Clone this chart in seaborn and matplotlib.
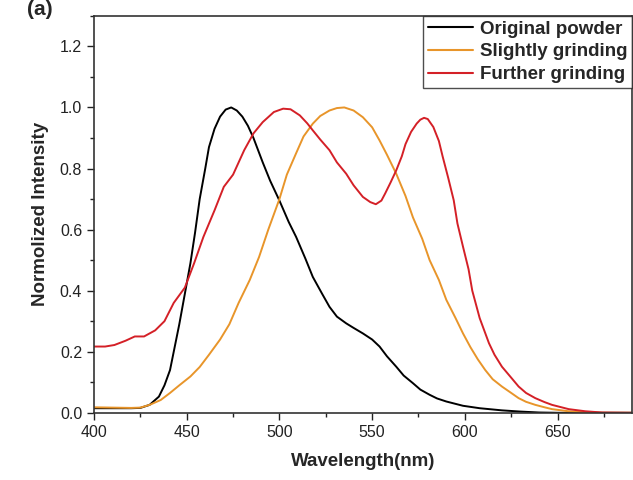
import numpy as np
import pandas as pd
import matplotlib
matplotlib.use("Agg")
import matplotlib.pyplot as plt
from matplotlib.ticker import MultipleLocator, FormatStrFormatter
import seaborn as sns

# ---- data ----
wl_original = [400, 410, 420, 425, 430, 435, 438, 441, 443, 446, 449, 452, 454.5, 457, 460,
               462, 465, 468, 471, 474, 477, 480, 483, 486, 491, 495, 500, 505, 509, 514,
               518, 523, 527, 531, 536, 540, 545, 550, 554, 558, 563, 567, 572, 576, 581,
               585, 590, 599, 608, 620, 630, 640, 650, 690]
int_original = [0.015, 0.015, 0.015, 0.016, 0.026, 0.053, 0.09, 0.14, 0.20, 0.29, 0.39, 0.49,
                0.59, 0.70, 0.80, 0.87, 0.93, 0.97, 0.993, 1.0, 0.99, 0.97, 0.94, 0.90, 0.82,
                0.76, 0.695, 0.625, 0.576, 0.505, 0.445, 0.39, 0.347, 0.315, 0.293, 0.278,
                0.26, 0.24, 0.217, 0.185, 0.151, 0.122, 0.097, 0.076, 0.059, 0.047, 0.037,
                0.023, 0.015, 0.008, 0.004, 0.001, 0.0, 0.0]

wl_slight = [400, 410, 420, 425, 430, 436, 441, 446, 452, 457, 462, 468, 473, 478, 484,
             489, 494, 500, 504, 509, 513, 518, 522, 527, 531, 535, 540, 545, 550, 554, 558,
             563, 568, 572, 577, 581, 586, 590, 595, 599, 603, 607, 611, 615, 620, 625, 629,
             633, 638, 643, 647, 656, 665, 674, 690]
int_slight = [0.018, 0.017, 0.016, 0.017, 0.026, 0.042, 0.065, 0.09, 0.119, 0.15, 0.19, 0.24,
              0.29, 0.36, 0.435, 0.51, 0.60, 0.70, 0.78, 0.85, 0.905, 0.947, 0.972, 0.99,
              0.998, 1.0, 0.99, 0.968, 0.935, 0.892, 0.845, 0.783, 0.71, 0.64, 0.57, 0.50,
              0.435, 0.37, 0.31, 0.26, 0.215, 0.175, 0.14, 0.11, 0.086, 0.065, 0.048, 0.036,
              0.026, 0.018, 0.012, 0.005, 0.002, 0.0, 0.0]

wl_further = [400, 406, 411, 417, 422, 427, 433, 438, 443, 449, 454, 459, 465, 470, 475,
              481, 486, 491, 497, 502, 506, 511, 515, 518, 522, 527, 531, 536, 540, 545, 549,
              552, 555, 557, 560, 563, 566, 568, 571, 574, 576, 578, 580, 583, 586, 588, 591,
              594, 596, 599, 602, 604, 608, 613, 616, 620, 625, 629, 633, 638, 643, 647, 656,
              665, 674, 690]
int_further = [0.217, 0.217, 0.222, 0.236, 0.25, 0.25, 0.27, 0.30, 0.36, 0.41, 0.49, 0.576,
               0.663, 0.74, 0.78, 0.86, 0.915, 0.952, 0.985, 0.996, 0.994, 0.974, 0.948,
               0.925, 0.895, 0.86, 0.82, 0.783, 0.745, 0.707, 0.69, 0.683, 0.695, 0.718,
               0.755, 0.794, 0.84, 0.88, 0.92, 0.947, 0.96, 0.966, 0.962, 0.936, 0.89, 0.84,
               0.77, 0.696, 0.62, 0.544, 0.47, 0.40, 0.31, 0.228, 0.19, 0.151, 0.115, 0.086,
               0.065, 0.048, 0.035, 0.026, 0.012, 0.005, 0.001, 0.0]

labels = ["Original powder", "Slightly grinding", "Further grinding"]
colors = ["#000000", "#E8952A", "#D42027"]

df = pd.concat([
    pd.DataFrame({"Wavelength": wl_original, "Intensity": int_original, "Sample": labels[0]}),
    pd.DataFrame({"Wavelength": wl_slight, "Intensity": int_slight, "Sample": labels[1]}),
    pd.DataFrame({"Wavelength": wl_further, "Intensity": int_further, "Sample": labels[2]}),
], ignore_index=True)

sns.set_theme(style="ticks")
plt.rcParams["font.family"] = ["Liberation Sans", "DejaVu Sans"]

fig = plt.figure(figsize=(6.33, 4.8), dpi=100)
ax = fig.add_axes([0.1485, 0.140, 0.8495, 0.827])

sns.lineplot(data=df, x="Wavelength", y="Intensity", hue="Sample",
             palette=dict(zip(labels, colors)), hue_order=labels,
             sort=False, estimator=None, linewidth=1.4, ax=ax)

ax.set_xlim(400, 690)
ax.set_ylim(0, 1.3)
ax.xaxis.set_major_locator(MultipleLocator(50))
ax.xaxis.set_minor_locator(MultipleLocator(25))
ax.yaxis.set_major_locator(MultipleLocator(0.2))
ax.yaxis.set_minor_locator(MultipleLocator(0.1))
ax.yaxis.set_major_formatter(FormatStrFormatter("%.1f"))
ax.tick_params(axis="both", which="major", direction="out", length=5, width=1,
               labelsize=11.5, colors="#222222", labelcolor="#222222")
ax.tick_params(axis="both", which="minor", direction="out", length=3, width=1, colors="#222222")

for s in ax.spines.values():
    s.set_visible(True)
    s.set_color("#333333")
    s.set_linewidth(1.2)

ax.set_xlabel("Wavelength(nm)", fontsize=13.5, fontweight="bold", labelpad=10)
ax.set_ylabel("Normolized Intensity", fontsize=13.5, fontweight="bold", labelpad=8)

leg = ax.legend(loc="upper right", bbox_to_anchor=(1.0, 1.0), borderaxespad=0,
                frameon=True, fancybox=False, edgecolor="#222222",
                prop={"weight": "bold", "size": 13.5}, handlelength=2.4,
                handletextpad=0.35, labelspacing=0.3, borderpad=0.25)
leg.get_frame().set_linewidth(1.0)
for line in leg.get_lines():
    line.set_linewidth(1.5)

fig.text(0.043, 0.999, "(a)", fontsize=15, fontweight="bold", va="top", ha="left")

fig.savefig("out.png", dpi=100)
